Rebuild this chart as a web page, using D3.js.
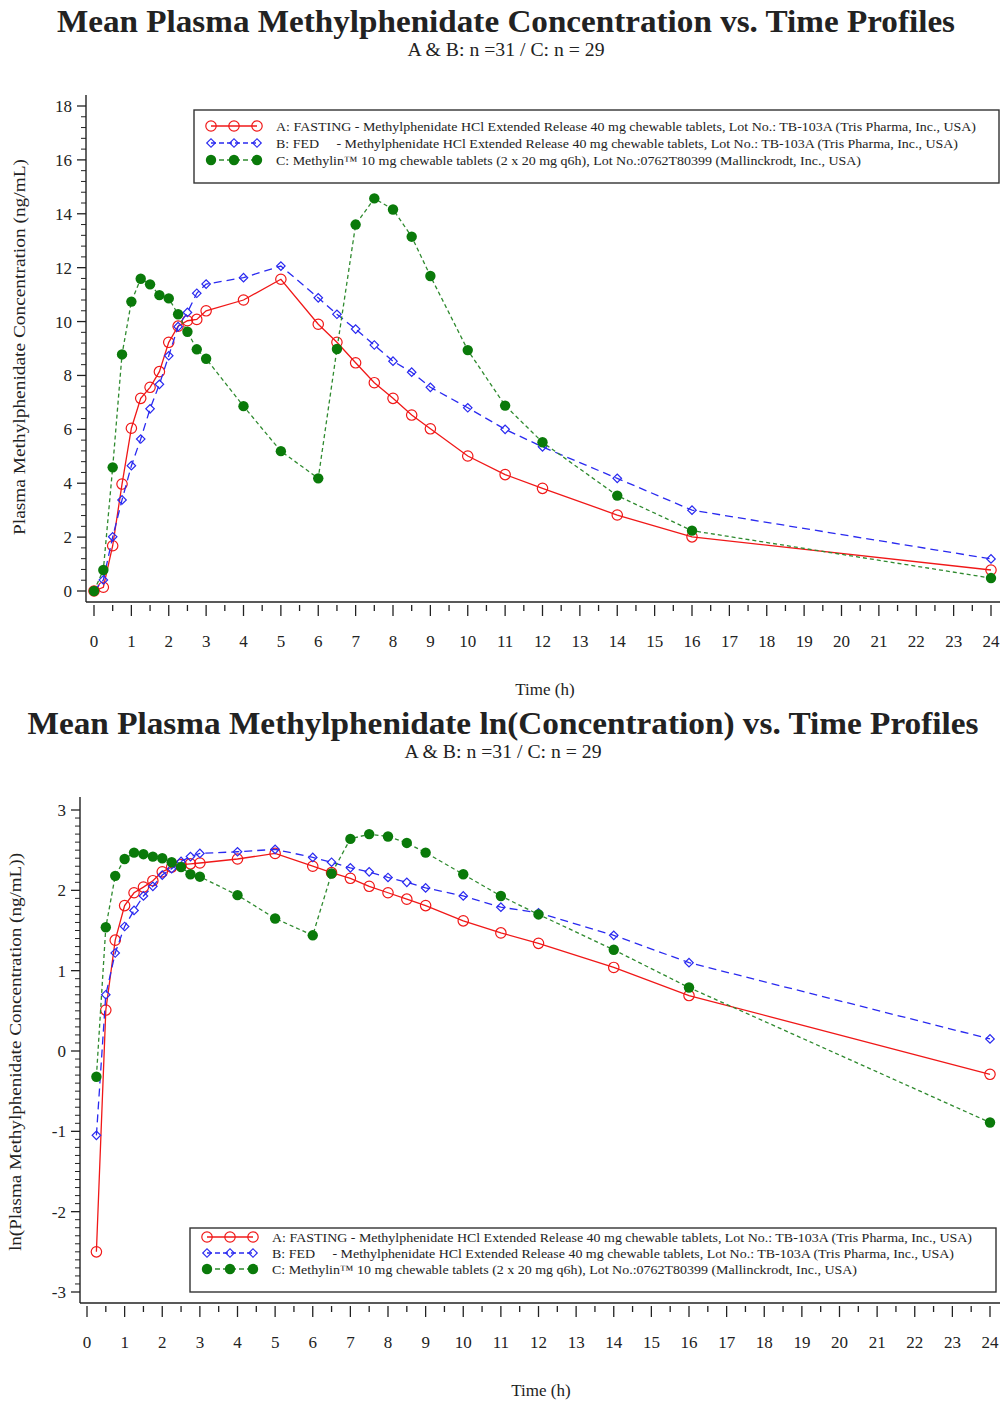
<!DOCTYPE html>
<html>
<head>
<meta charset="utf-8">
<title>Mean Plasma Methylphenidate Profiles</title>
<script src="https://d3js.org/d3.v7.min.js"></script>
<style>
  body { margin: 0; background: white; }
  text { font-family: "Liberation Serif", "DejaVu Serif", serif; fill: #222; }
</style>
</head>
<body>
<svg id="chart" width="1003" height="1401"></svg>
<script>
// ---- data ----

// sampling times (h)
let timesLin = [0, 0.25, 0.5, 0.75, 1, 1.25, 1.5, 1.75, 2, 2.25, 2.5, 2.75, 3, 4, 5, 6, 6.5, 7, 7.5, 8, 8.5, 9, 10, 11, 12, 14, 16, 24];
let timesLn = [0.25, 0.5, 0.75, 1, 1.25, 1.5, 1.75, 2, 2.25, 2.5, 2.75, 3, 4, 5, 6, 6.5, 7, 7.5, 8, 8.5, 9, 10, 11, 12, 14, 16, 24];

// mean concentration (ng/mL)
let concA = [0, 0.14, 1.68, 3.97, 6.04, 7.15, 7.56, 8.14, 9.23, 9.83, 10.03, 10.08, 10.4, 10.8, 11.57, 9.9, 9.23, 8.47, 7.73, 7.15, 6.53, 6.02, 5.01, 4.32, 3.81, 2.82, 2.01, 0.78];
let concB = [0, 0.41, 2.01, 3.38, 4.65, 5.64, 6.76, 7.67, 8.73, 9.81, 10.34, 11.05, 11.39, 11.63, 12.06, 10.88, 10.27, 9.72, 9.13, 8.53, 8.12, 7.56, 6.80, 6.0, 5.35, 4.18, 3.0, 1.19];
let concC = [0, 0.78, 4.59, 8.78, 10.74, 11.59, 11.38, 10.98, 10.86, 10.27, 9.62, 8.97, 8.62, 6.86, 5.19, 4.18, 8.98, 13.6, 14.57, 14.16, 13.15, 11.69, 8.94, 6.88, 5.52, 3.54, 2.24, 0.48];

// mean ln(concentration)
let lnA = [-2.50, 0.51, 1.38, 1.81, 1.97, 2.04, 2.12, 2.23, 2.29, 2.32, 2.33, 2.34, 2.39, 2.46, 2.30, 2.22, 2.15, 2.05, 1.97, 1.89, 1.81, 1.62, 1.47, 1.34, 1.04, 0.69, -0.29];
let lnB = [-1.05, 0.70, 1.22, 1.55, 1.75, 1.93, 2.05, 2.19, 2.27, 2.36, 2.42, 2.46, 2.48, 2.51, 2.41, 2.35, 2.28, 2.23, 2.16, 2.10, 2.03, 1.93, 1.79, 1.72, 1.44, 1.10, 0.15];
let lnC = [-0.32, 1.54, 2.18, 2.39, 2.47, 2.45, 2.42, 2.40, 2.35, 2.29, 2.20, 2.17, 1.94, 1.65, 1.44, 2.21, 2.64, 2.70, 2.67, 2.59, 2.47, 2.20, 1.93, 1.70, 1.26, 0.79, -0.89];

// ticks
let xTicks = d3.range(0, 25, 1);
let xMinor = d3.range(0.5, 24, 1);
let yTicksLin = [0, 2, 4, 6, 8, 10, 12, 14, 16, 18];
let yTicksLn = [-3, -2, -1, 0, 1, 2, 3];

// text
let titleLin = "Mean Plasma Methylphenidate Concentration vs. Time Profiles";
let titleLn = "Mean Plasma Methylphenidate ln(Concentration) vs. Time Profiles";
let subtitle = "A & B: n =31 / C: n = 29";
let legendLabels = [
  "A: FASTING - Methylphenidate HCl Extended Release 40 mg chewable tablets, Lot No.: TB-103A (Tris Pharma, Inc., USA)",
  "B: FED     - Methylphenidate HCl Extended Release 40 mg chewable tablets, Lot No.: TB-103A (Tris Pharma, Inc., USA)",
  "C: Methylin\u2122 10 mg chewable tablets (2 x 20 mg q6h), Lot No.:0762T80399 (Mallinckrodt, Inc., USA)"
];
let legendWidths = [700, 682, 585];

// series look
let seriesStyle = [
  {color: "#f01818", dash: null, sym: "circle"},
  {color: "#2a2af0", dash: "8,5", sym: "diamond"},
  {color: "#2f8a2f", dash: "4,3", sym: "dot", fill: "#0a7a0a"}
];

let svg = d3.select("#chart");

// draws one marker at (x,y) in group g
function marker(g, kind, x, y) {
  if (kind === "circle") {
    g.append("circle").attr("cx", x).attr("cy", y).attr("r", 5.2)
      .attr("fill", "none").attr("stroke", seriesStyle[0].color).attr("stroke-width", 1.2);
  } else if (kind === "diamond") {
    // square turned 45deg -> even diamond like the SAS one
    g.append("path").attr("d", d3.symbol(d3.symbolSquare).size(36)())
      .attr("transform", `translate(${x},${y}) rotate(45)`)
      .attr("fill", "none").attr("stroke", seriesStyle[1].color).attr("stroke-width", 1.2);
  } else {
    g.append("circle").attr("cx", x).attr("cy", y).attr("r", 5.2)
      .attr("fill", seriesStyle[2].fill);
  }
}

function panel(cfg) {
  let g = svg.append("g");
  let x = d3.scaleLinear().domain([0, 24]).range(cfg.xRange);
  let y = d3.scaleLinear().domain(cfg.yDomain).range(cfg.yRange);

  // titles
  g.append("text").attr("x", cfg.titleX).attr("y", cfg.titleY)
    .attr("text-anchor", "middle").style("font-size", "32px").style("font-weight", "bold")
    .attr("textLength", cfg.titleW).attr("lengthAdjust", "spacingAndGlyphs")
    .text(cfg.title);
  g.append("text").attr("x", cfg.titleX).attr("y", cfg.titleY + 24)
    .attr("text-anchor", "middle").style("font-size", "18px")
    .attr("textLength", 197).attr("lengthAdjust", "spacingAndGlyphs")
    .text(subtitle);

  // axis lines
  g.append("line").attr("x1", cfg.axisX).attr("x2", cfg.axisX)
    .attr("y1", cfg.axisTop).attr("y2", cfg.axisY).attr("stroke", "#222").attr("stroke-width", 1.4);
  g.append("line").attr("x1", cfg.axisX).attr("x2", 1000)
    .attr("y1", cfg.axisY).attr("y2", cfg.axisY).attr("stroke", "#222").attr("stroke-width", 1.4);

  // x ticks (hang a little below the axis line)
  xTicks.forEach(t => {
    g.append("line").attr("x1", x(t)).attr("x2", x(t))
      .attr("y1", cfg.axisY + 3).attr("y2", cfg.axisY + 14).attr("stroke", "#222").attr("stroke-width", 1.3);
    g.append("text").attr("x", x(t)).attr("y", cfg.axisY + 45)
      .attr("text-anchor", "middle").style("font-size", "17px").text(t);
  });
  xMinor.forEach(t => {
    g.append("line").attr("x1", x(t)).attr("x2", x(t))
      .attr("y1", cfg.axisY + 3).attr("y2", cfg.axisY + 9).attr("stroke", "#222").attr("stroke-width", 1.3);
  });

  // y ticks
  cfg.yTicks.forEach(v => {
    g.append("line").attr("x1", cfg.axisX - 9).attr("x2", cfg.axisX)
      .attr("y1", y(v)).attr("y2", y(v)).attr("stroke", "#222").attr("stroke-width", 1.3);
    g.append("text").attr("x", cfg.axisX - 14).attr("y", y(v) + 6)
      .attr("text-anchor", "end").style("font-size", "17px").text(v);
  });
  let step = cfg.yTicks[1] - cfg.yTicks[0];
  for (let i = 0; i < cfg.yTicks.length - 1; i++) {
    for (let k = 1; k < cfg.minorN + 1; k++) {
      let v = cfg.yTicks[i] + k * step / (cfg.minorN + 1);
      g.append("line").attr("x1", cfg.axisX - 5).attr("x2", cfg.axisX)
        .attr("y1", y(v)).attr("y2", y(v)).attr("stroke", "#222").attr("stroke-width", 1);
    }
  }

  // axis titles
  g.append("text").attr("x", cfg.xLabelX).attr("y", cfg.axisY + 93)
    .attr("text-anchor", "middle").style("font-size", "17px").text("Time (h)");
  g.append("text")
    .attr("transform", `translate(${cfg.yLabelX},${cfg.yLabelY}) rotate(-90)`)
    .attr("text-anchor", "middle").style("font-size", "16px")
    .attr("textLength", cfg.yLabelW).attr("lengthAdjust", "spacingAndGlyphs")
    .text(cfg.yLabel);

  // series lines + markers
  cfg.series.forEach((vals, si) => {
    let st = seriesStyle[si];
    let pts = vals.map((v, i) => [cfg.times[i], v]);
    let line = d3.line().x(d => x(d[0])).y(d => y(d[1]));
    g.append("path").datum(pts).attr("d", line)
      .attr("fill", "none").attr("stroke", st.color).attr("stroke-width", 1.3)
      .attr("stroke-dasharray", st.dash);
    pts.forEach(d => marker(g, st.sym, x(d[0]), y(d[1])));
  });

  // legend box
  let lg = g.append("g");
  lg.append("rect").attr("x", cfg.legX).attr("y", cfg.legY)
    .attr("width", cfg.legW).attr("height", cfg.legH)
    .attr("fill", "white").attr("stroke", "#333").attr("stroke-width", 1.4);
  legendLabels.forEach((lab, i) => {
    let ly = cfg.legY + cfg.legRow0 + i * cfg.legRowH;
    let sx = cfg.legX + 17;
    let st = seriesStyle[i];
    lg.append("line").attr("x1", sx).attr("x2", sx + 46).attr("y1", ly).attr("y2", ly)
      .attr("stroke", st.color).attr("stroke-width", 1.3).attr("stroke-dasharray", st.dash ? "5,3" : null);
    [0, 23, 46].forEach(dx => marker(lg, st.sym, sx + dx, ly));
    lg.append("text").attr("x", sx + 65).attr("y", ly + 4.5)
      .attr("xml:space", "preserve").style("font-size", "13px")
      .attr("textLength", legendWidths[i]).attr("lengthAdjust", "spacingAndGlyphs")
      .text(lab);
  });
}

// top: linear concentration
panel({
  title: titleLin, titleX: 506, titleY: 32, titleW: 898,
  xRange: [94, 991], yDomain: [0, 18], yRange: [591, 106],
  axisX: 86, axisY: 602, axisTop: 95,
  yTicks: yTicksLin, minorN: 4,
  xLabelX: 545, yLabel: "Plasma Methylphenidate Concentration (ng/mL)",
  yLabelX: 25, yLabelY: 347, yLabelW: 376,
  times: timesLin, series: [concA, concB, concC],
  legX: 194, legY: 110, legW: 805, legH: 73, legRow0: 16, legRowH: 17
});

// bottom: ln concentration
panel({
  title: titleLn, titleX: 503, titleY: 734, titleW: 951,
  xRange: [87, 990], yDomain: [-3, 3], yRange: [1292, 810],
  axisX: 80, axisY: 1303, axisTop: 797,
  yTicks: yTicksLn, minorN: 9,
  xLabelX: 541, yLabel: "ln(Plasma Methylphenidate Concentration (ng/mL))",
  yLabelX: 21, yLabelY: 1052, yLabelW: 398,
  times: timesLn, series: [lnA, lnB, lnC],
  legX: 190, legY: 1228, legW: 806, legH: 64, legRow0: 9, legRowH: 16
});
</script>
</body>
</html>
